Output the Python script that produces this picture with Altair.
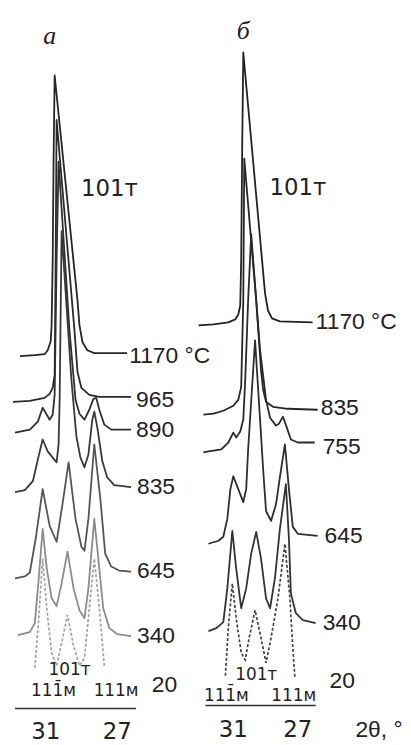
import altair as alt
import pandas as pd

# ---------------- Panel "а" (2θ in degrees, intensity in arbitrary units) ----------------
a_1170_off = 383
a_1170_tth = [32.44, 31.61, 31.06, 30.89, 30.72, 30.67, 30.61, 30.56, 30.50, 29.22, 29.11, 28.94, 28.67, 28.28, 26.44]
a_1170_int = [-1, 0, 1, 5, 14, 30, 95, 195, 282, 55, 30, 13, 5, 2, 2]

a_965_off = 339
a_965_tth = [32.83, 31.89, 31.06, 30.78, 30.61, 30.50, 30.44, 30.39, 29.39, 29.22, 29.00, 28.56, 28.00, 26.22]
a_965_int = [-3, -2, 1, 5, 11, 24, 149, 281, 69, 27, 11, 4, 2, 2]

a_890_off = 308
a_890_tth = [32.72, 31.89, 31.44, 31.17, 30.94, 30.78, 30.61, 30.50, 30.39, 30.28, 29.67, 29.33, 29.11, 28.83,
             28.56, 28.33, 28.17, 28.00, 27.72, 27.33, 26.22]
a_890_int = [-3, 0, 8, 22, 15, 10, 15, 35, 170, 270, 100, 30, 16, 10, 20, 31, 32, 20, 5, 0, 0]

a_835_off = 248
a_835_tth = [32.72, 32.17, 31.72, 31.44, 31.17, 30.89, 30.39, 30.28, 30.22, 30.11, 29.56, 29.28, 29.06, 28.83,
             28.61, 28.39, 28.28, 28.11, 27.83, 27.56, 27.17, 26.22]
a_835_int = [-3, -1, 8, 30, 50, 38, 27, 45, 90, 260, 110, 53, 32, 22, 35, 70, 78, 62, 28, 12, 4, 2]

a_645_off = 162
a_645_tth = [32.72, 32.17, 31.89, 31.56, 31.17, 30.78, 30.39, 30.06, 29.72, 29.33, 29.00, 28.83, 28.61, 28.28,
             27.94, 27.67, 27.33, 26.89, 26.22]
a_645_int = [-4, -2, 2, 36, 86, 49, 33, 71, 113, 56, 28, 24, 56, 131, 76, 21, 8, 4, 3]

a_340_off = 102
a_340_tth = [32.56, 31.89, 31.61, 31.39, 31.17, 30.94, 30.67, 30.39, 30.11, 29.78, 29.44, 29.11, 28.83, 28.61,
             28.28, 28.00, 27.78, 27.44, 27.00, 26.22]
a_340_int = [-1, 2, 11, 56, 106, 66, 36, 28, 51, 83, 46, 24, 16, 46, 116, 66, 26, 6, 0, -2]

a_20_off = 68
a_20_tth = [31.61, 31.39, 31.17, 30.94, 30.67, 30.39, 30.11, 29.78, 29.44, 29.11, 28.83, 28.56, 28.28, 28.00, 27.72]
a_20_int = [0, 50, 110, 60, 15, 2, 25, 53, 22, 2, 10, 60, 110, 60, 2]

# ---------------- Panel "б" ----------------
b_1170_off = 416
b_1170_tth = [33.15, 32.23, 31.31, 30.88, 30.69, 30.57, 30.51, 30.45, 30.38, 29.03, 28.85, 28.60, 28.11, 26.08]
b_1170_int = [-3, -2, 0, 3, 8, 17, 62, 172, 272, 29, 12, 4, 1, 0]

b_835_off = 328
b_835_tth = [32.85, 32.23, 31.62, 31.00, 30.69, 30.51, 30.38, 30.32, 29.58, 29.28, 29.15, 28.97, 28.54, 27.62, 25.77]
b_835_int = [-5, -4, -1, 4, 10, 23, 110, 253, 110, 40, 20, 8, 3, 1, 0]

b_755_off = 288
b_755_tth = [32.85, 32.54, 31.74, 31.31, 31.00, 30.82, 30.57, 30.38, 30.26, 30.08, 29.89, 29.34, 28.97, 28.72,
             28.35, 28.17, 27.92, 27.68, 27.43, 27.00, 25.95]
b_755_int = [-3, -2, 0, 7, 17, 12, 18, 30, 70, 150, 217, 100, 50, 32, 24, 26, 33, 22, 10, 7, 7]

b_645_off = 198
b_645_tth = [32.54, 31.92, 31.62, 31.37, 31.18, 31.00, 30.69, 30.38, 30.20, 30.08, 29.65, 29.34, 29.15, 28.97,
             28.66, 28.35, 28.11, 27.80, 27.55, 27.31, 27.00, 25.77]
b_645_int = [-5, -2, 2, 20, 50, 63, 50, 37, 50, 90, 200, 120, 70, 28, 18, 35, 62, 95, 50, 12, 5, 3]

b_340_off = 110
b_340_tth = [32.54, 32.05, 31.62, 31.37, 31.06, 30.82, 30.51, 30.20, 29.89, 29.58, 29.28, 28.97, 28.72, 28.42,
             28.11, 27.74, 27.55, 27.43, 27.12, 26.69, 25.89]
b_340_int = [-5, -2, 4, 38, 96, 58, 18, 38, 73, 95, 68, 28, 18, 48, 98, 143, 88, 33, 13, 6, 3]

b_20_off = 63
b_20_tth = [31.49, 31.31, 31.06, 30.82, 30.51, 30.26, 30.02, 29.65, 29.28, 28.97, 28.66, 28.23, 27.80, 27.49, 27.31, 27.18]
b_20_int = [-3, 45, 90, 55, 20, 13, 35, 63, 35, 10, 35, 75, 130, 75, 25, -5]

# temperature labels (text, 2θ position where the label starts, level)
a_lab_text = ["1170 °C", "965", "890", "835", "645", "340", "20"]
a_lab_tth = [26.33, 25.94, 25.94, 25.89, 25.89, 25.89, 25.06]
a_lab_y = [382, 338, 308, 250, 165, 100, 51]

b_lab_text = ["1170 °C", "835", "755", "645", "340", "20", "2θ, °"]
b_lab_tth = [25.89, 25.58, 25.46, 25.34, 25.46, 25.03, 23.43]
b_lab_y = [416, 330, 290, 201, 113, 55, 5]

# centred annotations: peak names, tick labels
a_ann_text = ["101т", "101т", "111̄м", "111м", "31", "27"]
a_ann_tth = [27.44, 29.67, 30.56, 27.06, 31.0, 27.0]
a_ann_y = [550, 66, 45, 45, 3, 3]
a_ann_fs = [23, 17, 17, 17, 23, 23]

b_ann_text = ["101т", "101т", "111̄м", "111м", "31", "27"]
b_ann_tth = [27.0, 29.58, 31.43, 27.25, 31.0, 27.0]
b_ann_y = [551, 61, 40, 40, 5, 5]
b_ann_fs = [23, 17, 17, 17, 23, 23]

# axis lines (2θ start, 2θ end, level)
a_axis = (32.72, 25.94, 27)
b_axis = (32.72, 25.89, 30)

a_title = ("а", 30.78, 705)
b_title = ("б", 30.38, 710)


def rows(name, off, tth, inten, col):
    return [dict(curve=name, i=k, tth=t, y=off + v, col=col)
            for k, (t, v) in enumerate(zip(tth, inten))]


def panel(curves, dashed, lab, ann, axis, title, xdom, width):
    xs = alt.Scale(domain=xdom, reverse=True, nice=False, zero=False)
    ys = alt.Scale(domain=[0, 730], nice=False, zero=False)
    X = lambda f: alt.X(f, type="quantitative", scale=xs, axis=None)
    Y = lambda f: alt.Y(f, type="quantitative", scale=ys, axis=None)

    solid = pd.DataFrame([r for c in curves for r in rows(*c)])
    dash = pd.DataFrame([r for c in dashed for r in rows(*c)])

    l1 = alt.Chart(solid).mark_line(strokeWidth=1.8, strokeJoin="round").encode(
        x=X("tth"), y=Y("y"), detail="curve:N",
        color=alt.Color("col:N", scale=None), order=alt.Order("i:Q"))
    l2 = alt.Chart(dash).mark_line(strokeWidth=1.7, strokeDash=[3, 2]).encode(
        x=X("tth"), y=Y("y"), detail="curve:N",
        color=alt.Color("col:N", scale=None), order=alt.Order("i:Q"))

    labdf = pd.DataFrame(dict(text=lab[0], tth=lab[1], y=lab[2]))
    t1 = alt.Chart(labdf).mark_text(align="left", baseline="middle", fontSize=23,
                                    font="Liberation Sans", color="#222").encode(
        x=X("tth"), y=Y("y"), text="text:N")

    anndf = pd.DataFrame(dict(text=ann[0], tth=ann[1], y=ann[2], fs=ann[3]))
    t2 = alt.Chart(anndf).mark_text(align="center", baseline="middle",
                                    font="DejaVu Sans", color="#222").encode(
        x=X("tth"), y=Y("y"), text="text:N", size=alt.Size("fs:Q", scale=None))

    axdf = pd.DataFrame(dict(x1=[axis[0]], x2=[axis[1]], y=[axis[2]]))
    r = alt.Chart(axdf).mark_rule(strokeWidth=1.6, color="#333").encode(
        x=X("x1"), x2="x2", y=Y("y"))

    tdf = pd.DataFrame(dict(text=[title[0]], tth=[title[1]], y=[title[2]]))
    t3 = alt.Chart(tdf).mark_text(align="center", baseline="middle", fontSize=26,
                                  font="Liberation Serif", fontStyle="italic", color="#222").encode(
        x=X("tth"), y=Y("y"), text="text:N")

    return alt.layer(l1, l2, r, t1, t2, t3).properties(width=width, height=730)


pa = panel(
    [("1170", a_1170_off, a_1170_tth, a_1170_int, "#262626"),
     ("965", a_965_off, a_965_tth, a_965_int, "#2a2a2a"),
     ("890", a_890_off, a_890_tth, a_890_int, "#303030"),
     ("835", a_835_off, a_835_tth, a_835_int, "#383838"),
     ("645", a_645_off, a_645_tth, a_645_int, "#555555"),
     ("340", a_340_off, a_340_tth, a_340_int, "#8c8c8c")],
    [("20", a_20_off, a_20_tth, a_20_int, "#a0a0a0")],
    (a_lab_text, a_lab_tth, a_lab_y),
    (a_ann_text, a_ann_tth, a_ann_y, a_ann_fs),
    a_axis, a_title, [22.444, 33.111], 192)

pb = panel(
    [("1170", b_1170_off, b_1170_tth, b_1170_int, "#222222"),
     ("835", b_835_off, b_835_tth, b_835_int, "#262626"),
     ("755", b_755_off, b_755_tth, b_755_int, "#2a2a2a"),
     ("645", b_645_off, b_645_tth, b_645_int, "#2e2e2e"),
     ("340", b_340_off, b_340_tth, b_340_int, "#333333")],
    [("20", b_20_off, b_20_tth, b_20_int, "#444444")],
    (b_lab_text, b_lab_tth, b_lab_y),
    (b_ann_text, b_ann_tth, b_ann_y, b_ann_fs),
    b_axis, b_title, [20.662, 33.154], 203)

chart = alt.hconcat(pa, pb, spacing=0, bounds="flush").properties(
    padding=0, background="white").configure_view(strokeWidth=0)

chart.save("out.html", embed_options={"renderer": "svg", "actions": False})
